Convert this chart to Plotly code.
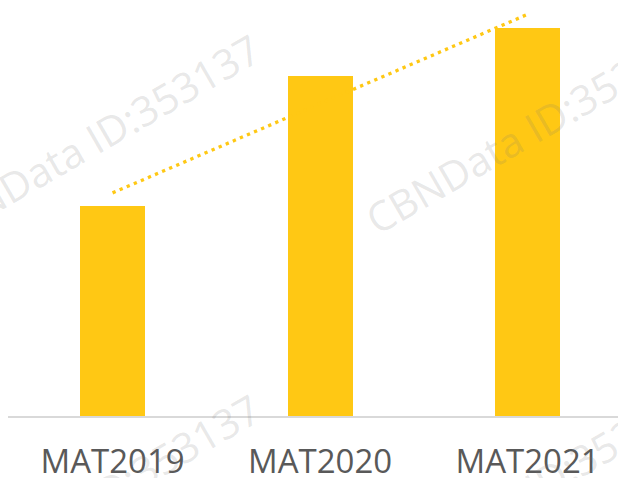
import numpy as np
import plotly.graph_objects as go

categories = ["MAT2019", "MAT2020", "MAT2021"]
values = [54.0, 87.5, 100.0]  # index, MAT2021 = 100
watermark_text = "CBNData ID:353137"

BAR_COLOR = "#FFC814"

# linear trend line through the bar values
idx = np.arange(len(values))
slope, intercept = np.polyfit(idx, values, 1)
trend = [intercept + slope * i for i in (0, len(values) - 1)]

fig = go.Figure()
fig.add_trace(go.Bar(
    x=categories, y=values, marker=dict(color=BAR_COLOR, line=dict(width=0)),
    width=0.313, showlegend=False, hoverinfo="x+y",
))
fig.add_trace(go.Scatter(
    x=[categories[0], categories[-1]], y=trend, mode="lines",
    line=dict(color=BAR_COLOR, width=3.3, dash="3.3px,4.4px"),
    showlegend=False, hoverinfo="skip",
))

# watermarks (paper pixel positions converted to paper fractions)
W, H = 618, 478
marks = [(93, 139), (532, 128), (93, 499), (532, 488)]
for (px, py) in marks:
    fig.add_annotation(
        text=watermark_text, xref="paper", yref="paper",
        x=(px - 8) / (W - 8), y=1 - py / 416, xanchor="center", yanchor="middle",
        showarrow=False, textangle=-30,
        font=dict(family="Open Sans", size=41, color="rgba(120,120,120,0.18)"),
    )

fig.update_layout(
    width=W, height=H,
    margin=dict(l=8, r=0, t=0, b=62, autoexpand=False),
    paper_bgcolor="white", plot_bgcolor="white",
    xaxis=dict(
        type="category", range=[-0.504, 2.436], automargin=False,
        showline=True, linecolor="#d9d9d9", linewidth=1.5,
        showgrid=False, zeroline=False, ticks="",
        tickfont=dict(family="Open Sans", size=33, color="#595959"),
        ticklabelstandoff=16,
    ),
    yaxis=dict(range=[0, 107.2], visible=False, showgrid=False, zeroline=False,
               automargin=False),
    bargap=0,
)

fig.write_html(
    "out.html",
    config={"displayModeBar": False},
    post_script="document.body.style.margin='0';document.body.style.overflow='hidden';",
)
